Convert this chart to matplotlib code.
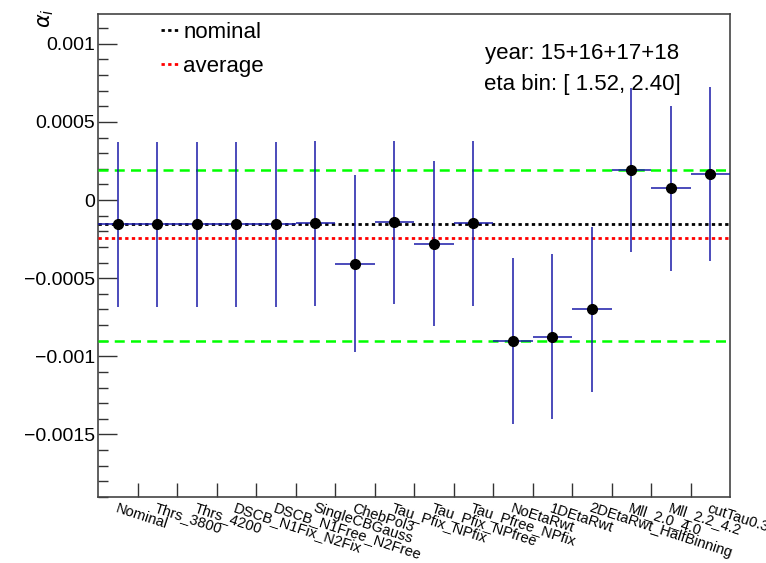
import matplotlib.pyplot as plt
import numpy as np
from matplotlib.ticker import FixedLocator, MultipleLocator, FuncFormatter

plt.rcParams['font.family'] = ['Liberation Sans', 'DejaVu Sans']
plt.rcParams['mathtext.fontset'] = 'dejavusans'

# systematic variations -------------------------------------------------------
variations = ['Nominal', 'Thrs_3800', 'Thrs_4200', 'DSCB_N1Fix_N2Fix', 'DSCB_N1Free_N2Free',
              'SingleCBGauss', 'ChebPol3', 'Tau_Pfix_NPfix', 'Tau_Pfix_NPfree', 'Tau_Pfree_NPfix',
              'NoEtaRwt', '1DEtaRwt', '2DEtaRwt_HalfBinning', 'Mll_2.0_4.0', 'Mll_2.2_4.2', 'cutTau0.3']
alpha = [-0.000156, -0.000156, -0.000156, -0.000156, -0.000156, -0.000150, -0.000408, -0.000143,
         -0.000280, -0.000150, -0.000904, -0.000874, -0.000699, 0.000192, 0.000075, 0.000167]
alpha_err = [0.000530, 0.000530, 0.000530, 0.000530, 0.000528, 0.000525, 0.000565, 0.000523,
             0.000528, 0.000525, 0.000530, 0.000528, 0.000527, 0.000522, 0.000529, 0.000558]
nominal = -0.000155
average = -0.000243
yticks = [-0.0015, -0.001, -0.0005, 0, 0.0005, 0.001]

x = np.arange(len(variations))

fig = plt.figure(figsize=(7.66, 5.63), dpi=100)
ax = fig.add_axes([0.128, 0.1172, 0.825, 0.8579])

# points ----------------------------------------------------------------------
ax.errorbar(x, alpha, yerr=alpha_err, xerr=0.5, fmt='o', color='k', ms=7,
            ecolor='#1a1aa8', elinewidth=1.1, capsize=0, zorder=5)

# reference lines -------------------------------------------------------------
ax.axhline(max(alpha), color='#00ff00', ls=(0, (4, 2.5)), lw=1.8, zorder=3)
ax.axhline(min(alpha), color='#00ff00', ls=(0, (4, 2.5)), lw=1.8, zorder=3)
l_nom = ax.axhline(nominal, color='k', ls=(0, (1.2, 1.2)), lw=2, zorder=4)
l_avg = ax.axhline(average, color='#ff0000', ls=(0, (1.2, 1.2)), lw=2, zorder=4)

ax.legend([l_nom, l_avg], ['nominal', 'average'], loc='upper left',
          bbox_to_anchor=(0.068, 1.025), frameon=False, fontsize=16,
          handlelength=0.9, handletextpad=0.1, labelspacing=0.6)

ax.text(0.766, 0.918, 'year: 15+16+17+18', transform=ax.transAxes,
        ha='center', va='center', fontsize=16)
ax.text(0.766, 0.855, 'eta bin: [ 1.52, 2.40]', transform=ax.transAxes,
        ha='center', va='center', fontsize=16)

# axes ------------------------------------------------------------------------
ax.set_xlim(-0.5, len(variations) - 0.5)
ax.set_ylim(-0.0019, 0.00119)

ax.set_xticks(x)
ax.set_xticklabels(variations, fontsize=10.5)
for lbl in ax.get_xticklabels():
    lbl.set_rotation(-18)
    lbl.set_ha('left')
    lbl.set_va('top')
    lbl.set_rotation_mode('anchor')
ax.xaxis.set_minor_locator(FixedLocator(x[:-1] + 0.5))
ax.tick_params(axis='x', which='major', length=0, pad=3)
ax.tick_params(axis='x', which='minor', direction='in', length=10, width=1, color='#333333')

ax.yaxis.set_major_locator(FixedLocator(yticks))
ax.yaxis.set_minor_locator(MultipleLocator(0.0001))
ax.yaxis.set_major_formatter(FuncFormatter(lambda v, _: f'{v:g}'.replace('-', '\u2212')))
ax.tick_params(axis='y', which='major', direction='in', length=14, width=1,
               color='#333333', labelsize=14, pad=2)
ax.tick_params(axis='y', which='minor', direction='in', length=7, width=1, color='#333333')

for sp in ax.spines.values():
    sp.set_color('#444444')
    sp.set_linewidth(1.2)

fig.text(0.06, 0.985, r'$\alpha_{i}$', rotation=90, ha='center', va='top', fontsize=15)

plt.savefig('out.png', dpi=100)
